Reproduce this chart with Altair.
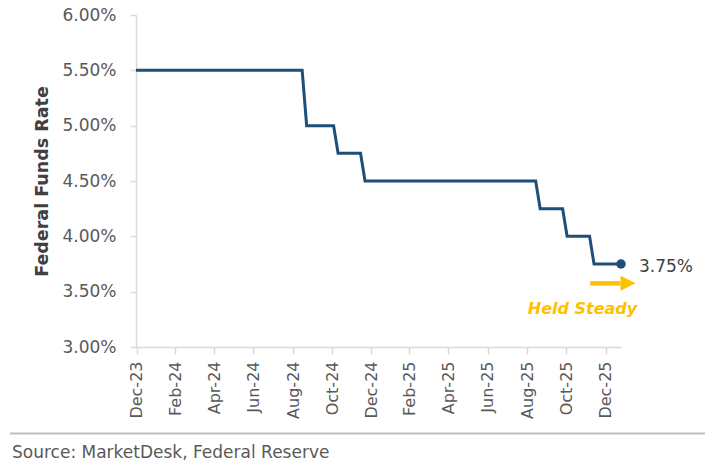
import altair as alt
import pandas as pd

dates = ["2023-12-30", "2024-09-14", "2024-09-21", "2024-11-02", "2024-11-09",
         "2024-12-14", "2024-12-21", "2025-09-13", "2025-09-20", "2025-10-25",
         "2025-11-01", "2025-12-06", "2025-12-13", "2026-01-24"]
rates = [5.50, 5.50, 5.00, 5.00, 4.75, 4.75, 4.50, 4.50, 4.25, 4.25, 4.00, 4.00, 3.75, 3.75]

tick_dates = ["2023-12-31", "2024-02-29", "2024-04-30", "2024-06-30", "2024-08-31",
              "2024-10-31", "2024-12-31", "2025-02-28", "2025-04-30", "2025-06-30",
              "2025-08-31", "2025-10-31", "2025-12-31"]
y_ticks = [3.0, 3.5, 4.0, 4.5, 5.0, 5.5, 6.0]
x_domain = ["2023-12-30", "2026-01-24"]

y_title = "Federal Funds Rate"
source_text = "Source: MarketDesk, Federal Reserve"
held_label = "Held Steady"
held_pos = ("2025-11-25", 3.30)
arrow_from = "2025-12-07"
arrow_to = "2026-01-23"
arrow_head = "2026-02-04"
arrow_y = 3.575

LINE = "#1f4e79"
GOLD = "#ffc000"
FONT = "DejaVu Sans"


def dt(s):
    y, m, d = map(int, s.split("-"))
    return alt.DateTime(year=y, month=m, date=d, utc=True)


df = pd.DataFrame({"date": dates, "rate": rates})
last = df.tail(1).copy()

x_enc = alt.X(
    "date:T",
    scale=alt.Scale(type="utc", domain=[dt(d) for d in x_domain]),
    axis=alt.Axis(
        values=[dt(d) for d in tick_dates],
        format="%b-%y",
        labelAngle=-90,
        labelFont=FONT,
        labelFontSize=16,
        labelColor="#595959",
        labelPadding=7,
        tickSize=7,
        tickColor="#d9d9d9",
        tickWidth=1.5,
        domainColor="#d9d9d9",
        domainWidth=1.5,
        grid=False,
        title=None,
    ),
)
y_enc = alt.Y(
    "rate:Q",
    scale=alt.Scale(domain=[3, 6], nice=False, zero=False),
    axis=alt.Axis(
        values=y_ticks,
        labelExpr="format(datum.value, '.2f') + '%'",
        labelFont=FONT,
        labelFontSize=17,
        labelColor="#595959",
        labelPadding=14,
        tickSize=6,
        tickColor="#d9d9d9",
        tickWidth=1.5,
        domainColor="#d9d9d9",
        domainWidth=1.5,
        grid=False,
        title=y_title,
        titleFont=FONT,
        titleFontSize=17.5,
        titleFontWeight="bold",
        titleColor="#404040",
        titleX=-94,
        titleY=166,
        titleAngle=-90,
        titleAlign="center",
        titleBaseline="middle",
    ),
)

line = alt.Chart(df).mark_line(color=LINE, strokeWidth=3, strokeJoin="miter").encode(x=x_enc, y=y_enc)

dot = alt.Chart(last).mark_circle(color=LINE, size=90, opacity=1).encode(x=x_enc, y=y_enc)

last_label = (
    alt.Chart(last)
    .transform_calculate(label="format(datum.rate, '.2f') + '%'")
    .mark_text(align="left", baseline="alphabetic", dx=18, dy=7.5, font=FONT, fontSize=17, color="#404040")
    .encode(x=x_enc, y=y_enc, text="label:N")
)

arrow_df = pd.DataFrame({"date": [arrow_from], "date2": [arrow_to], "rate": [arrow_y]})
arrow = alt.Chart(arrow_df).mark_rule(color=GOLD, strokeWidth=4.5, strokeCap="butt").encode(
    x=x_enc, x2="date2:T", y=y_enc
)
head_df = pd.DataFrame({"date": [arrow_head], "rate": [arrow_y]})
head = alt.Chart(head_df).mark_point(
    shape="M -1 -1 L 1 0 L -1 1 Z", size=225, filled=True, color=GOLD, opacity=1, strokeWidth=0
).encode(x=x_enc, y=y_enc)

held_df = pd.DataFrame({"date": [held_pos[0]], "rate": [held_pos[1]], "label": [held_label]})
held = alt.Chart(held_df).mark_text(
    align="center", baseline="alphabetic", font=FONT, fontSize=16, fontWeight="bold",
    fontStyle="italic", color=GOLD
).encode(x=x_enc, y=y_enc, text="label:N")

src_df = pd.DataFrame({"label": [source_text]})
source = alt.Chart(src_df).mark_text(
    align="left", baseline="alphabetic", font=FONT, fontSize=17, color="#595959"
).encode(x=alt.value(-124), y=alt.value(443), text="label:N")

sep = alt.Chart(src_df).mark_rule(color="#bfbfbf", strokeWidth=2).encode(
    x=alt.value(-126), x2=alt.value(569), y=alt.value(418.5)
)

chart = (
    alt.layer(line, dot, last_label, arrow, head, held, source, sep)
    .properties(
        width=485,
        height=332,
        autosize=alt.AutoSizeParams(type="none"),
        padding={"left": 128, "top": 7, "right": 85, "bottom": 115},
        background="white",
    )
    .configure_view(stroke=None)
)

chart.save("out.html", embed_options={"renderer": "svg", "actions": False})
